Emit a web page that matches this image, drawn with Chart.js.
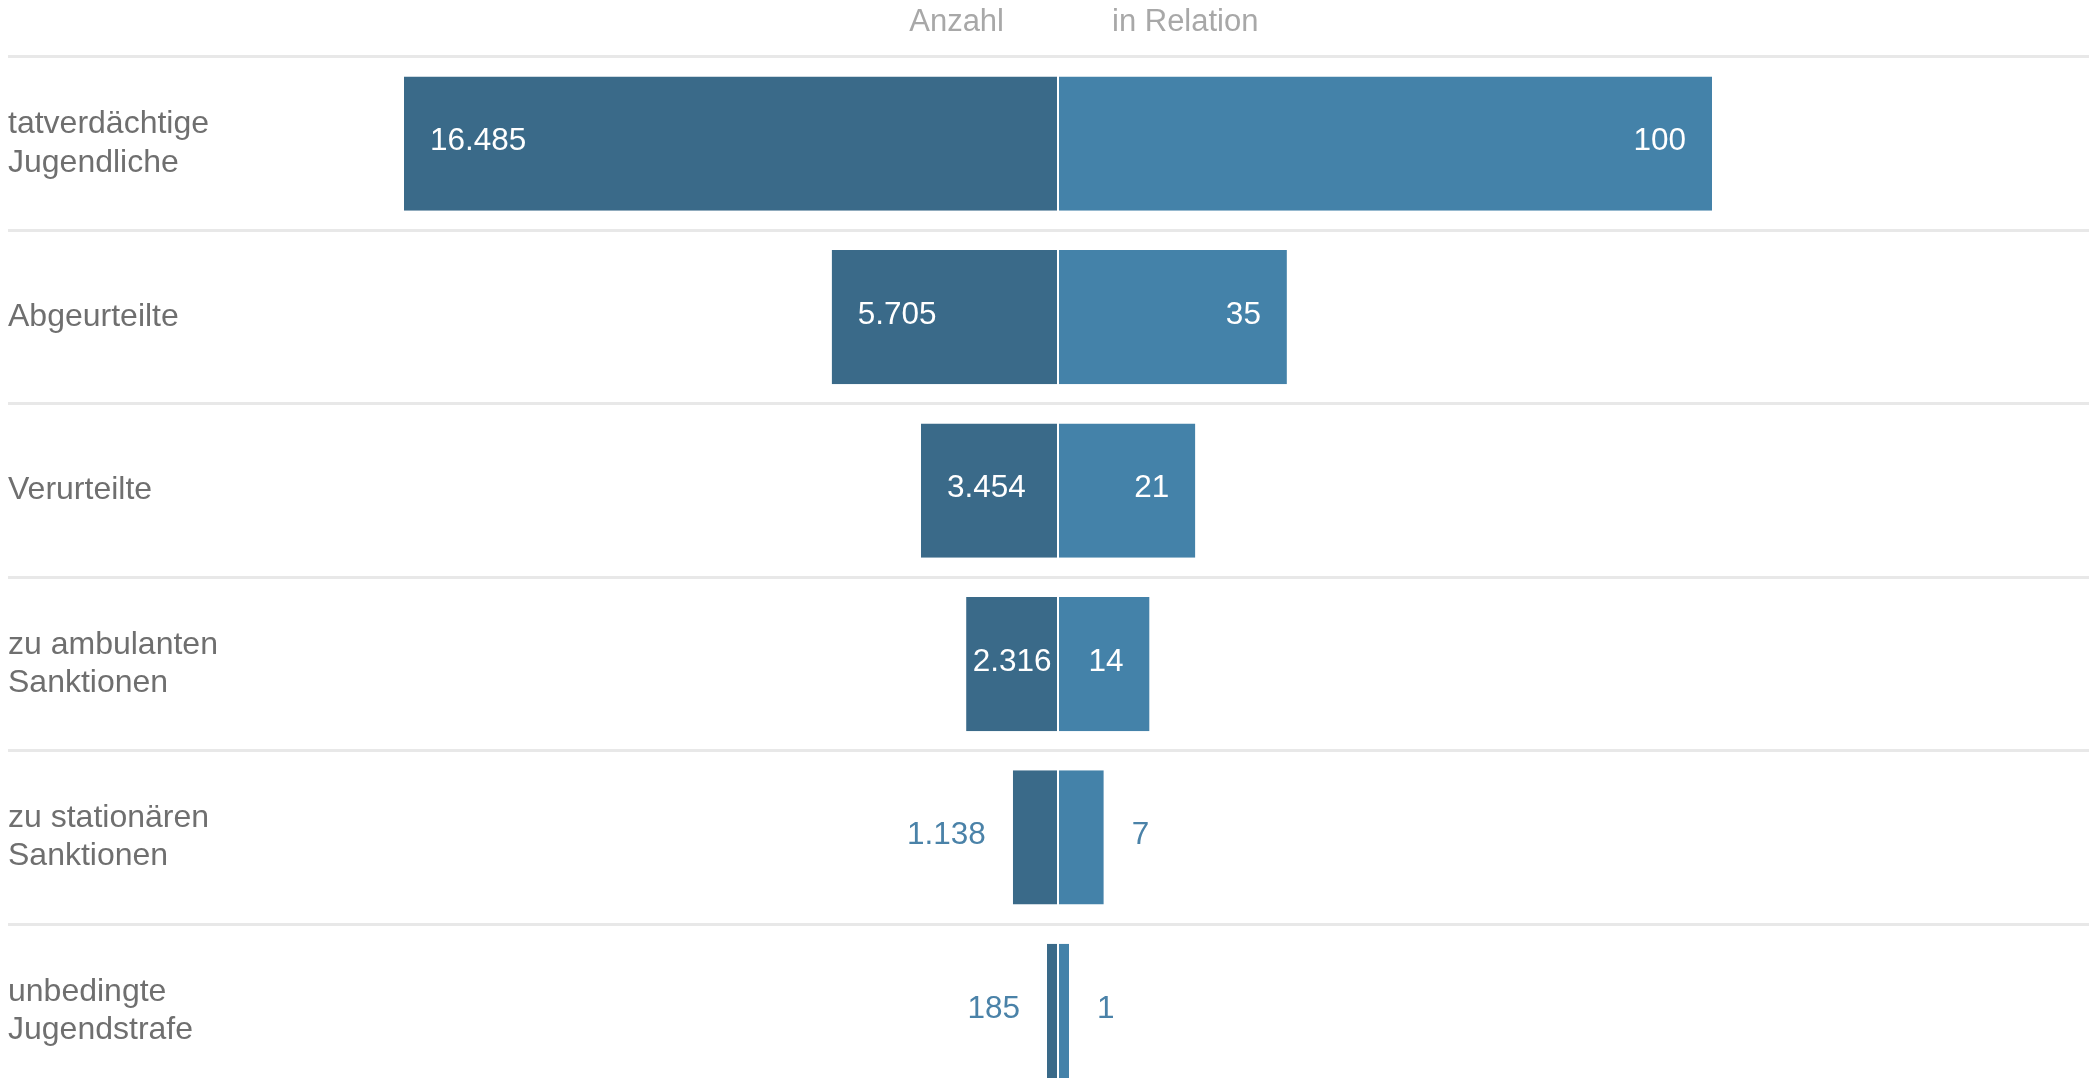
<!DOCTYPE html>
<html>
<head>
<meta charset="utf-8">
<script src="https://cdn.jsdelivr.net/npm/chart.js@4"></script>
<style>
  html, body { margin: 0; padding: 0; background: #fff; overflow: hidden; }
  canvas { display: block; }
</style>
</head>
<body>
<canvas id="funnel" width="2089" height="1136" style="width:2089px;height:1136px"></canvas>
<script>
const categories = [
  ['tatverdächtige', 'Jugendliche'],
  'Abgeurteilte',
  'Verurteilte',
  ['zu ambulanten', 'Sanktionen'],
  ['zu stationären', 'Sanktionen'],
  ['unbedingte', 'Jugendstrafe']
]
const anzahl = [16485, 5705, 3454, 2316, 1138, 185]
const relation = [100, 35, 21, 14, 7, 1]
const headers = ['Anzahl', 'in Relation']

const FONT = '"Liberation Sans", Arial, sans-serif'
const darkBlue = '#3a6a89'
const lightBlue = '#4482a9'
const outsideColor = '#4a82a8'

// width of the left half of the chart area (px) and length of the biggest bar
const leftW = 1050, barMaxPx = 654

const fmt = (v) => String(v).replace(/\B(?=(\d{3})+(?!\d))/g, '.')

// put the two value axes side by side: Anzahl on the left, in Relation on the right
const splitAxes = {
  id: 'splitAxes',
  afterLayout(chart) {
    const area = chart.chartArea
    const split = area.left + leftW
    const x = chart.scales.x, x2 = chart.scales.x2
    x.left = area.left; x.right = split; x.width = split - area.left
    x.max = Math.max(...anzahl) * x.width / barMaxPx
    x.configure()
    x2.left = split; x2.right = area.right; x2.width = area.right - split
    x2.max = Math.max(...relation) * x2.width / barMaxPx
    x2.configure()
  }
}

const valueLabels = {
  id: 'valueLabels',
  afterDatasetsDraw(chart) {
    const ctx = chart.ctx
    ctx.save()
    ctx.font = '31.5px ' + FONT
    ctx.textBaseline = 'middle'
    chart.data.datasets.forEach((ds, di) => {
      const meta = chart.getDatasetMeta(di)
      const maxV = Math.max(...ds.data)
      meta.data.forEach((bar, i) => {
        const v = ds.data[i]
        const txt = fmt(v)
        const w = ctx.measureText(txt).width
        const len = Math.abs(bar.x - bar.base)
        const y = bar.y - 2
        const toLeft = di === 0
        if (v / maxV < 0.1) {
          ctx.fillStyle = outsideColor
          ctx.textAlign = toLeft ? 'right' : 'left'
          ctx.fillText(txt, toLeft ? bar.x - 27 : bar.x + 28, y)
        } else {
          const pad = Math.min(26, (len - w) / 2)
          ctx.fillStyle = '#fff'
          ctx.textAlign = toLeft ? 'left' : 'right'
          ctx.fillText(txt, toLeft ? bar.x + pad : bar.x - pad, y)
        }
      })
    })
    ctx.restore()
  }
}

const headerLabels = {
  id: 'headerLabels',
  afterDraw(chart) {
    const ctx = chart.ctx
    const mid = chart.scales.x.getPixelForValue(0)
    ctx.save()
    ctx.font = '31px ' + FONT
    ctx.fillStyle = '#a8a8a8'
    ctx.textBaseline = 'alphabetic'
    ctx.textAlign = 'right'
    ctx.fillText(headers[0], mid - 54, 31)
    ctx.textAlign = 'left'
    ctx.fillText(headers[1], mid + 54, 31)
    ctx.restore()
  }
}

new Chart(document.getElementById('funnel'), {
  type: 'bar',
  data: {
    labels: categories,
    datasets: [{
      label: headers[0],
      data: anzahl,
      xAxisID: 'x',
      backgroundColor: darkBlue,
      borderColor: '#fff',
      borderWidth: { top: 0, bottom: 0, left: 0, right: 1 },
      borderSkipped: false,
      grouped: false,
      barPercentage: 0.774,
      categoryPercentage: 1,
      minBarLength: 11,
    }, {
      label: headers[1],
      data: relation,
      xAxisID: 'x2',
      backgroundColor: lightBlue,
      borderColor: '#fff',
      borderWidth: { top: 0, bottom: 0, left: 1, right: 0 },
      borderSkipped: false,
      grouped: false,
      barPercentage: 0.774,
      categoryPercentage: 1,
      minBarLength: 11,
    }],
  },
  options: {
    indexAxis: 'y',
    responsive: false,
    animation: false,
    layout: { padding: { top: 57, left: 8, right: 0, bottom: 0 } },
    plugins: {
      legend: { display: false },
      tooltip: { enabled: false },
    },
    scales: {
      x: { display: false, position: 'top', reverse: true, min: 0 },
      x2: { display: false, position: 'top', min: 0 },
      y: {
        position: 'left',
        grid: { color: '#e8e8e8', lineWidth: 3, drawTicks: false, offset: true },
        border: { display: false },
        ticks: {
          mirror: true,
          padding: 0,
          color: '#6f6f6f',
          font: { family: FONT, size: 32, lineHeight: 1.2 },
        },
      },
    },
  },
  plugins: [splitAxes, valueLabels, headerLabels],
})
</script>
</body>
</html>
